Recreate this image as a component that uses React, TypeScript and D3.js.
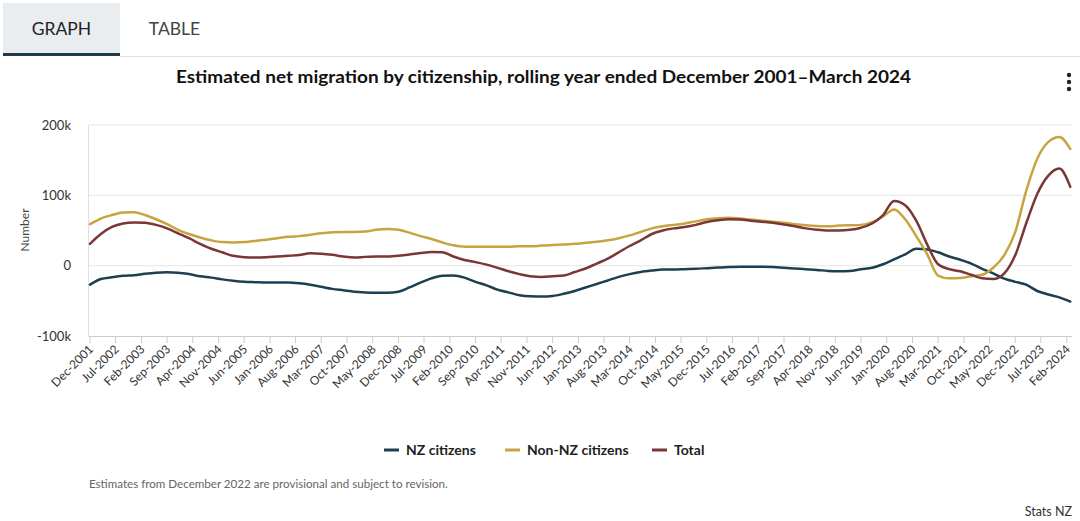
import React from "react";
import * as d3 from "d3";

// ---- Data (thousands), quarterly from Dec-2001 to Mar-2024 ----
const startPeriod = "Dec-2001";
const stepMonths = 3;

const nzCitizens = [
  -27, -19, -16.5, -14.5, -13.5, -11.5, -10, -9.5, -10, -12,
  -15, -17, -19.5, -21.5, -23, -23.5, -24, -24, -24, -25,
  -27, -30, -33, -35, -37, -38, -38.5, -38.6, -37, -31,
  -24, -18, -14.5, -14, -17, -23, -28, -34, -38, -42,
  -43.5, -43.8, -43, -40, -36, -31, -26, -21, -16, -12,
  -9, -7, -5.5, -5.5, -5, -4.5, -3.5, -2.5, -2, -1.5,
  -1.5, -1.5, -2, -3, -4, -5, -6, -7.5, -8, -7.5,
  -5, -3, 2, 9, 16, 24, 23, 19, 13, 8.5,
  3, -4.5, -11, -18.5, -23, -27, -36, -41, -45, -51,
];

const nonNzCitizens = [
  59, 67, 72, 75.5, 76, 72, 66, 59, 51, 45,
  40, 36, 33.5, 33, 33.5, 35, 37, 39, 41, 42,
  44, 46, 47.5, 48, 48, 48.5, 51, 52, 51, 47,
  42, 38, 33, 29, 27, 27, 27, 27, 27, 27.5,
  27.5, 28.5, 29.5, 30, 31, 32.5, 34, 36, 39, 43,
  48, 53, 56, 58, 60, 63, 66, 67.5, 68, 67,
  65.5, 64, 62.5, 61, 59, 57.5, 56.5, 56, 57, 57.5,
  58, 62, 70, 80, 66, 42, 16, -14, -18, -17.5,
  -15, -13, -3, 15, 48, 106, 152, 176, 183, 166,
];

const total = [
  31, 45, 55, 60, 61.5, 61, 58, 53, 46, 39,
  31, 24, 19, 14, 12, 11.5, 12, 13, 14, 15,
  17.5, 17, 15.5, 13, 11.5, 12.5, 13, 13, 14, 16,
  18, 19.5, 19, 13, 8, 5, 1.5, -3, -8, -12,
  -15, -16, -15, -14, -9, -4, 3, 10, 19, 28,
  36, 45, 50, 53, 55, 58, 62, 64.5, 66, 65.5,
  64, 62.5, 61, 58.5, 56, 53, 51, 50, 50, 51,
  54, 60, 72, 92, 86, 64, 30, 2, -5, -8,
  -13, -18, -19, -11, 15, 60, 102, 128, 138, 112,
];

const tickLabels = [
  "Dec-2001", "Jul-2002", "Feb-2003", "Sep-2003", "Apr-2004", "Nov-2004",
  "Jun-2005", "Jan-2006", "Aug-2006", "Mar-2007", "Oct-2007", "May-2008",
  "Dec-2008", "Jul-2009", "Feb-2010", "Sep-2010", "Apr-2011", "Nov-2011",
  "Jun-2012", "Jan-2013", "Aug-2013", "Mar-2014", "Oct-2014", "May-2015",
  "Dec-2015", "Jul-2016", "Feb-2017", "Sep-2017", "Apr-2018", "Nov-2018",
  "Jun-2019", "Jan-2020", "Aug-2020", "Mar-2021", "Oct-2021", "May-2022",
  "Dec-2022", "Jul-2023", "Feb-2024",
];

const yTicks = [200, 100, 0, -100];
const yTickLabels = ["200k", "100k", "0", "-100k"];

const seriesNames = ["NZ citizens", "Non-NZ citizens", "Total"];
const seriesColors = ["#1e3f52", "#c7a43f", "#7b3636"];

const FONT = "Lato, 'Open Sans', sans-serif";

export default function App() {
  const parse = d3.utcParse("%b-%Y");
  const start = parse(startPeriod) as Date;
  const dates = nzCitizens.map((_, i) => d3.utcMonth.offset(start, i * stepMonths));
  const endDate = dates[dates.length - 1];

  const x = d3.scaleUtc().domain([start, endDate]).range([90, 1070.3]);
  const y = d3.scaleLinear().domain([-100, 200]).range([336, 125]);

  const line = d3
    .line<number>()
    .x((_, i) => x(dates[i]))
    .y((d) => y(d))
    .curve(d3.curveMonotoneX);

  const allSeries = [nzCitizens, nonNzCitizens, total];

  const legendX = [384, 505, 652];

  return (
    <svg
      width={1080}
      height={521}
      style={{ position: "absolute", left: 0, top: 0, background: "#fff" }}
      fontFamily={FONT}
    >
      {/* tabs */}
      <rect x={3} y={3} width={117} height={52} fill="#e9edf0" />
      <rect x={3} y={53} width={117} height={3} fill="#1f3a48" />
      <line x1={120} x2={1080} y1={56.5} y2={56.5} stroke="#e3e3e3" />
      <text x={61.5} y={35} textAnchor="middle" fontSize={17.5} fill="#222">GRAPH</text>
      <text x={174.5} y={35} textAnchor="middle" fontSize={17.5} fill="#444">TABLE</text>

      {/* title */}
      <text
        x={543.5}
        y={83}
        textAnchor="middle"
        fontSize={16.5}
        fontWeight="bold"
        fill="#111"
        textLength={735}
        lengthAdjust="spacingAndGlyphs"
      >
        Estimated net migration by citizenship, rolling year ended December 2001–March 2024
      </text>

      {/* kebab menu */}
      {[75, 82, 89].map((cy) => (
        <circle key={cy} cx={1069} cy={cy} r={2.2} fill="#222" />
      ))}

      {/* gridlines */}
      {yTicks.map((t, i) => (
        <g key={t}>
          {t !== -100 && (
            <line x1={88.5} x2={1072} y1={y(t)} y2={y(t)} stroke="#e6e6e6" strokeWidth={1} />
          )}
          <text x={71} y={y(t) + 4.5} textAnchor="end" fontSize={13} fill="#333">
            {yTickLabels[i]}
          </text>
        </g>
      ))}
      <line x1={88.5} x2={88.5} y1={125} y2={336} stroke="#e0e0e0" />
      <line x1={88.5} x2={1072} y1={336.5} y2={336.5} stroke="#cccccc" />

      <text
        transform="translate(29,230) rotate(-90)"
        textAnchor="middle"
        fontSize={12}
        fill="#444"
      >
        Number
      </text>

      {/* x ticks */}
      {tickLabels.map((lab) => {
        const tx = x(parse(lab) as Date);
        return (
          <g key={lab}>
            <line x1={tx} x2={tx} y1={336.5} y2={343} stroke="#cccccc" />
            <text
              transform={`translate(${tx + 4},${350}) rotate(-45)`}
              textAnchor="end"
              fontSize={12}
              fill="#333"
            >
              {lab}
            </text>
          </g>
        );
      })}

      {/* series */}
      {allSeries.map((s, i) => (
        <path
          key={seriesNames[i]}
          d={line(s) || ""}
          fill="none"
          stroke={seriesColors[i]}
          strokeWidth={2.5}
          strokeLinejoin="round"
          strokeLinecap="round"
        />
      ))}

      {/* legend */}
      {seriesNames.map((name, i) => (
        <g key={name}>
          <line
            x1={legendX[i]}
            x2={legendX[i] + 15}
            y1={450}
            y2={450}
            stroke={seriesColors[i]}
            strokeWidth={3}
          />
          <text x={legendX[i] + 22} y={455} fontSize={14} fontWeight="bold" fill="#222">
            {name}
          </text>
        </g>
      ))}

      {/* footnotes */}
      <text x={89} y={488} fontSize={11.6} fill="#666">
        Estimates from December 2022 are provisional and subject to revision.
      </text>
      <text x={1072} y={516} textAnchor="end" fontSize={12.5} fill="#333">
        Stats NZ
      </text>
    </svg>
  );
}
